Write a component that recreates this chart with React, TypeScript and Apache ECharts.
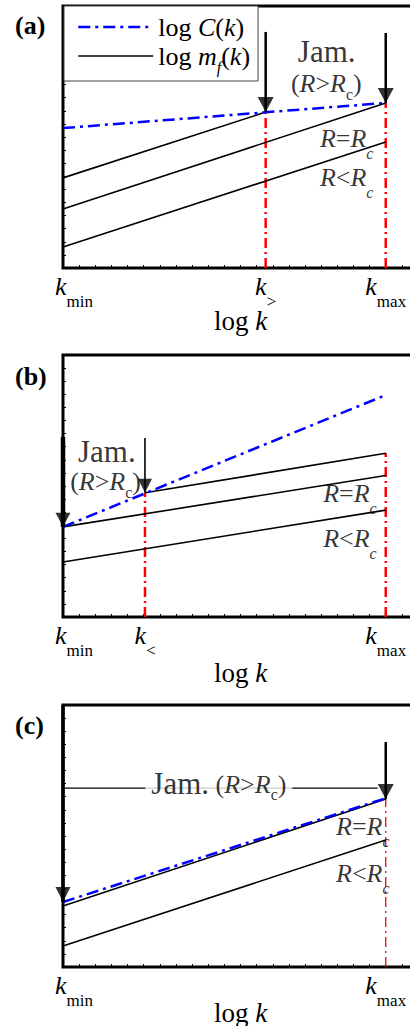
import React, { useEffect, useRef } from "react";
import * as echarts from "echarts";

const F = "Liberation Serif";

// ---------- data (x: position between k_min = 0 and k_max = 1 on log k; y: log value, 0..100) ----------
// panel (a)
const ticksA = [0, 0.628, 1];
const subsA = ["min", ">", "max"];
const blueA = [[0, 53.4], [1, 63.0]];
const jamA = [[0, 34.4], [0.628, 59.5]];
const critA = [[0, 22.5], [1, 63.0]];
const lowA = [[0, 8.0], [1, 48.1]];
const redA = [[0.628, 59.5], [1, 63.0]]; // [x, top]
const arrowsA = [[0.628, 90.1, 59.5], [1, 89.7, 63.0]]; // [x, from, tip]

// panel (b)
const ticksB = [0, 0.254, 1];
const subsB = ["min", "<", "max"];
const blueB = [[0, 34.4], [1, 84.7]];
const jamB = [[0.254, 47.4], [1, 62.5]];
const critB = [[0, 34.4], [1, 54.0]];
const lowB = [[0, 21.0], [1, 40.8]];
const redB = [[0.254, 47.4], [1, 62.5]];
const arrowsB = [[0, 68.7, 34.4], [0.254, 68.3, 47.4]];

// panel (c)
const ticksC = [0, 1];
const subsC = ["min", "max"];
const blueC = [[0, 24.8], [1, 64.4]];
const critC = [[0, 23.3], [1, 64.1]];
const lowC = [[0, 8.0], [1, 48.5]];
const jamLineC = [[0, 68.3], [0.975, 68.3]];
const redC = [[1, 64.1]];
const arrowsC = [[0, 100, 24.8], [1, 85.9, 64.1]];

// annotation texts
const JAM = "{j|Jam.}";
const RGT = "{n|(}{i|R}{n|>}{i|R}{cn|c}{n|)}";
const REQ = "{i|R}{n|=}{i|R}{ci|c}";
const RLT = "{i|R}{n|<}{i|R}{ci|c}";
const JAMC = "{j|Jam.}{nc| (}{ic|R}{nc|>}{ic|R}{cc|c}{nc|)}";

const notesA: [number, number, string][] = [
  [0.817, 82.6, JAM],
  [0.816, 69.4, RGT],
  [0.879, 47.6, REQ],
  [0.879, 32.7, RLT],
];
const notesB: [number, number, string][] = [
  [0.136, 63.2, JAM],
  [0.132, 50.7, RGT],
  [0.889, 45.3, REQ],
  [0.889, 28.2, RLT],
];
const notesC: [number, number, string][] = [
  [0.929, 51.8, REQ],
  [0.929, 33.9, RLT],
];
const noteJamC: [number, number, string] = [0.483, 69.3, JAMC];

// ---------- styles ----------
const base = { fontFamily: F, color: "#000", verticalAlign: "top" as const };
const rich: any = {
  n: { ...base, fontSize: 26 },
  i: { ...base, fontSize: 26, fontStyle: "italic" },
  j: { ...base, fontSize: 31 },
  ci: { ...base, fontSize: 16, fontStyle: "italic", padding: [20, 0, 0, 0] },
  cn: { ...base, fontSize: 16, padding: [16, 0, 0, 0] },
  nc: { ...base, fontSize: 26, padding: [4, 0, 0, 0] },
  ic: { ...base, fontSize: 26, fontStyle: "italic", padding: [4, 0, 0, 0] },
  cc: { ...base, fontSize: 16, padding: [19, 0, 0, 0] },
};
const tickRich: any = {
  kk: { ...base, fontSize: 26, fontStyle: "italic" },
  kk0: { ...base, fontSize: 26, fontStyle: "italic", padding: [0, 0, 0, 22] },
  ks: { ...base, fontSize: 17, padding: [19.6, 0, 0, 0] },
};

const GRID_TOPS = [6, 355, 705];
const NAME_GAPS = [39, 42, 32];

function line(name: string, g: number, data: number[][], color: string, width: number, type: any = "solid", z = 3) {
  return {
    type: "line",
    name,
    xAxisIndex: g,
    yAxisIndex: g,
    data,
    symbol: "none",
    clip: false,
    silent: true,
    z,
    itemStyle: { color },
    lineStyle: { color, width, type },
  };
}

const BLUE_DASH = [12, 5, 3, 5];
const RED_DASH = [10, 4, 2, 4];

function reds(g: number, items: number[][], width: number) {
  return items.map((r, k) => line(`red${g}_${k}`, g, [[r[0], 0], [r[0], r[1]]], "#ff0000", width, RED_DASH, 2));
}

function arrows(g: number, items: number[][], widths: number[], heads: number[][]) {
  const out: any[] = items.map((a, k) => line(`arr${g}_${k}`, g, [[a[0], a[1]], [a[0], a[2]]], "#000", widths[k], "solid", 5));
  out.push({
    type: "scatter",
    name: `head${g}`,
    xAxisIndex: g,
    yAxisIndex: g,
    clip: false,
    silent: true,
    z: 6,
    symbol: "triangle",
    symbolRotate: 180,
    data: items.map((a, k) => ({
      value: [a[0], a[2]],
      symbolSize: heads[k],
      symbolOffset: [0, -heads[k][1] / 2],
    })),
    itemStyle: { color: "#000" },
  });
  return out;
}

function notes(g: number, items: [number, number, string][], extra: any = {}) {
  return {
    type: "scatter",
    name: `notes${g}_${extra.bg ? "bg" : ""}`,
    xAxisIndex: g,
    yAxisIndex: g,
    clip: false,
    silent: true,
    z: 8,
    symbolSize: 1,
    itemStyle: { color: "rgba(0,0,0,0)" },
    label: {
      show: true,
      position: "inside",
      color: "#000",
      fontFamily: F,
      rich,
      ...(extra.bg ? { backgroundColor: "#fff", padding: [0, 6] } : {}),
    },
    data: items.map((d) => ({ value: [d[0], d[1]], label: { formatter: d[2] } })),
  };
}

function xAxis(g: number, ticks: number[], subs: string[]) {
  return {
    type: "value",
    gridIndex: g,
    min: 0,
    max: 1.1,
    interval: 0.05,
    axisLine: { show: false },
    splitLine: { show: false },
    axisTick: { show: true, inside: true, length: 3, lineStyle: { color: "#000", width: 1 } },
    axisLabel: {
      show: true,
      margin: 5,
      customValues: ticks,
      formatter: (v: number) => {
        const idx = ticks.findIndex((t) => Math.abs(t - v) < 1e-6);
        if (idx < 0) return "";
        return `{${idx === 0 ? "kk0" : "kk"}|k}{ks|${subs[idx]}}`;
      },
      rich: tickRich,
    },
    name: "log {ni|k}",
    nameLocation: "middle",
    nameGap: NAME_GAPS[g],
    nameMoveOverlap: false,
    nameTextStyle: {
      fontFamily: F,
      fontSize: 27,
      color: "#000",
      rich: { ni: { fontFamily: F, fontSize: 27, fontStyle: "italic", color: "#000" } },
    },
  };
}

function yAxis(g: number) {
  return {
    type: "value",
    gridIndex: g,
    min: 0,
    max: 100,
    interval: 5,
    axisLine: { show: false },
    splitLine: { show: false },
    axisLabel: { show: false },
    axisTick: { show: true, inside: true, length: 3, lineStyle: { color: "#000", width: 1 } },
  };
}

const legendRich: any = {
  l: { ...base, fontSize: 26 },
  li: { ...base, fontSize: 26, fontStyle: "italic" },
  l2: { ...base, fontSize: 26, padding: [6, 0, 0, 0] },
  li2: { ...base, fontSize: 26, fontStyle: "italic", padding: [6, 0, 0, 0] },
  ls: { ...base, fontSize: 16, fontStyle: "italic", padding: [22, 0, 0, 0] },
};

function buildOption() {
  const series: any[] = [
    // (a)
    ...reds(0, redA, 2.5),
    line("logm", 0, jamA, "#000", 1.6),
    line("critA", 0, critA, "#000", 1.6),
    line("lowA", 0, lowA, "#000", 1.6),
    line("logC", 0, blueA, "#0000ff", 2.5, BLUE_DASH, 4),
    ...arrows(0, arrowsA, [2.5, 2.5], [[16, 15], [16, 15]]),
    notes(0, notesA),
    // (b)
    ...reds(1, redB, 2.5),
    line("jamB", 1, jamB, "#000", 1.6),
    line("critB", 1, critB, "#000", 1.6),
    line("lowB", 1, lowB, "#000", 1.6),
    line("blueB", 1, blueB, "#0000ff", 2.5, BLUE_DASH, 4),
    ...arrows(1, arrowsB, [4.5, 1.6], [[15, 14], [14, 14]]),
    notes(1, notesB),
    // (c)
    ...reds(2, redC, 1.3),
    line("jamLineC", 2, jamLineC, "#000", 1.2),
    line("critC", 2, critC, "#000", 1.6),
    line("lowC", 2, lowC, "#000", 1.6),
    line("blueC", 2, blueC, "#0000ff", 2.5, BLUE_DASH, 4),
    ...arrows(2, arrowsC, [3.5, 2.5], [[15, 15], [16, 15]]),
    notes(2, notesC),
    notes(2, [noteJamC], { bg: true }),
  ];

  return {
    animation: false,
    backgroundColor: "#fff",
    title: ["(a)", "(b)", "(c)"].map((t, k) => ({
      text: t,
      left: 15,
      top: [12.5, 363, 712][k],
      padding: 0,
      textStyle: { fontFamily: F, fontSize: 26, fontWeight: "bold", color: "#000" },
    })),
    legend: {
      data: [
        { name: "logC", lineStyle: { width: 2.5 }, itemStyle: { opacity: 0 } },
        { name: "logm", lineStyle: { width: 1.6 }, itemStyle: { opacity: 0 } },
      ],
      orient: "vertical",
      left: 64,
      top: 6,
      itemWidth: 75,
      itemHeight: 14,
      itemGap: 3,
      padding: [8, 8, 6, 13],
      backgroundColor: "#fff",
      borderColor: "#444",
      borderWidth: 1,
      selectedMode: false,
      formatter: (name: string) =>
        name === "logC"
          ? "{l|log }{li|C}{l|(}{li|k}{l|)}"
          : "{l2|log }{li2|m}{ls|f}{l2|(}{li2|k}{l2|)}",
      textStyle: { fontFamily: F, fontSize: 26, color: "#000", rich: legendRich },
      z: 10,
    },
    grid: GRID_TOPS.map((t) => ({
      left: 63,
      top: t,
      width: 355,
      height: 262,
      show: true,
      borderColor: "#000",
      borderWidth: 3,
      backgroundColor: "rgba(0,0,0,0)",
      containLabel: false,
      outerBoundsMode: "none",
    })),
    xAxis: [xAxis(0, ticksA, subsA), xAxis(1, ticksB, subsB), xAxis(2, ticksC, subsC)],
    yAxis: [yAxis(0), yAxis(1), yAxis(2)],
    series,
  };
}

export default function App() {
  const ref = useRef<HTMLDivElement>(null);
  useEffect(() => {
    if (!ref.current) return;
    const chart = echarts.init(ref.current, null, { renderer: "svg" });
    chart.setOption(buildOption() as any);
    return () => chart.dispose();
  }, []);
  return (
    <div
      style={{
        position: "absolute",
        left: 0,
        top: 0,
        width: 410,
        height: 1026,
        overflow: "hidden",
        background: "#fff",
      }}
    >
      <div ref={ref} style={{ width: 410, height: 1026 }} />
    </div>
  );
}
